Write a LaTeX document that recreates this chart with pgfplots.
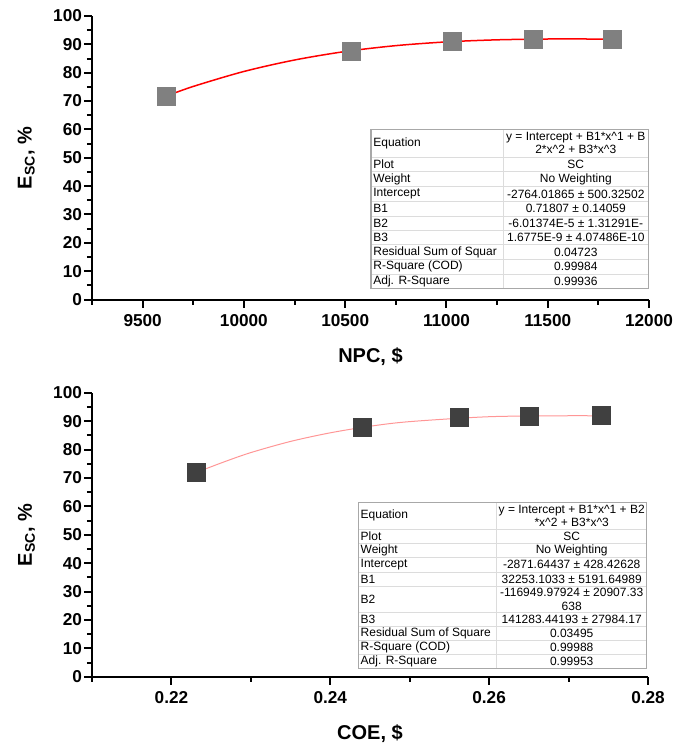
\documentclass[border=0pt]{standalone}
\usepackage{fontspec}
\setmainfont{Liberation Sans}[BoldFont={Liberation Sans Bold}]
\usepackage{pgfplots}
\pgfplotsset{compat=1.18}

\definecolor{mkgray}{HTML}{808080}
\definecolor{mkdark}{HTML}{404040}
\definecolor{fitpink}{RGB}{255,150,150}
\definecolor{tabline}{HTML}{DCDCDC}
\definecolor{tabframe}{HTML}{A8A8A8}

\pgfplotsset{
  orig/.style={
    scale only axis,
    axis x line*=bottom, axis y line*=left,
    axis line style={line width=1pt, -},
    every tick/.style={line width=1pt, black},
    tick align=outside,
    major tick length=4pt, minor tick length=2.5pt,
    ymin=0, ymax=100, ytick={0,10,...,100},
    minor ytick={5,15,...,95},
    scaled x ticks=false,
    /pgf/number format/assume math mode=true,
    tick label style={font=\fontsize{8.6}{10}\selectfont\bfseries},
    yticklabel style={xshift=2.5pt},
    label style={font=\fontsize{10.5}{12}\selectfont\bfseries},
    every axis y label/.style={at={(axis description cs:-0.118,0.5)}, rotate=90, anchor=center},
    every axis x label/.style={at={(axis description cs:0.5,0)}, yshift=-28.5pt, anchor=center},
    ylabel={\textbf{E\textsubscript{SC}, \%}},
    clip=false,
  },
}

\begin{document}
\begin{tikzpicture}
\path[use as bounding box] (0,0) rectangle (345pt,-373pt);

% ---- top: NPC ----
\begin{axis}[orig,
  at={(46pt,-149.75pt)}, anchor=south west,
  width=278.5pt, height=141.75pt,
  xmin=9250, xmax=12000,
  xtick={9500,10000,...,12000},
  minor xtick={9250,9750,...,11750},
  xticklabel style={/pgf/number format/1000 sep={}},
  xlabel={\textbf{NPC, \$}},
]
  \addplot[mkgray, only marks, mark=square*, mark size=4.5pt]
    coordinates {(9615,71.5) (10530,87.6) (11030,90.9) (11427,91.6) (11817,91.7)};
  \addplot[red, line width=0.75pt, smooth, no marks]
    coordinates {(9615,71.7) (9750,75.16) (10000,80.44) (10250,84.48) (10500,87.48)
      (10750,89.55) (11000,90.87) (11250,91.60) (11500,91.89) (11650,91.90) (11817,91.85)};
\end{axis}

% ---- bottom: COE ----
\begin{axis}[orig,
  at={(46pt,-338.35pt)}, anchor=south west,
  width=278pt, height=142pt,
  xmin=0.21, xmax=0.28,
  xtick={0.22,0.24,0.26,0.28},
  minor xtick={0.21,0.23,0.25,0.27},
  xticklabel style={/pgf/number format/.cd, fixed, fixed zerofill, precision=2},
  xlabel={\textbf{COE, \$}},
]
  \addplot[mkdark, only marks, mark=square*, mark size=4.5pt]
    coordinates {(0.2231,71.8) (0.2441,87.7) (0.2562,91.2) (0.2651,91.5) (0.2741,91.9)};
  \addplot[fitpink, line width=0.5pt, smooth, no marks]
    coordinates {(0.2231,71.89) (0.2265,75.51) (0.23,78.92) (0.235,82.85) (0.24,85.88)
      (0.245,88.19) (0.25,89.82) (0.26,91.55) (0.27,91.89) (0.2741,91.84)};
\end{axis}

% ---- fit tables (px coordinates, y down) ----
\begin{scope}[x=0.5pt, y=-0.5pt, font=\fontsize{6}{6.7}\selectfont]
  % top table
  \foreach \yy in {157,171.7,186.7,201.3,216,230.3,244.7,259.3,274.3}
    \draw[tabline, line width=0.5pt] (371,\yy) -- (648.3,\yy);
  \draw[tabline, line width=0.5pt] (503.3,129.3) -- (503.3,288.7);
  \draw[tabframe, line width=0.6pt] (371,129.3) rectangle (648.3,288.7);
  \foreach \ya/\yb/\ta/\tb in {
      157/171.7/Plot/SC,
      171.7/186.7/Weight/No Weighting,
      186.7/201.3/Intercept/{-2764.01865 ± 500.32502},
      201.3/216/B1/{0.71807 ± 0.14059},
      216/230.3/B2/{-6.01374E-5 ± 1.31291E-},
      230.3/244.7/B3/{1.6775E-9 ± 4.07486E-10},
      244.7/259.3/Residual Sum of Squar/0.04723,
      259.3/274.3/R-Square (COD)/0.99984,
      274.3/288.7/Adj. R-Square/0.99936}{
    \node[anchor=west, inner sep=0pt] at (373,{(\ya+\yb)/2}) {\ta};
    \node[inner sep=0pt] at (575.8,{(\ya+\yb)/2}) {\tb};
  }
  \node[anchor=west, inner sep=0pt] at (373,143.2) {Equation};
  \node[inner sep=0pt, align=center] at (575.8,143.2) {y = Intercept + B1*x\^{}1 + B\\2*x\^{}2 + B3*x\^{}3};

  % bottom table
  \foreach \yy in {529.3,543.3,557.7,572,586,612.3,626.3,640.3,654.3}
    \draw[tabline, line width=0.5pt] (358.3,\yy) -- (646.7,\yy);
  \draw[tabline, line width=0.5pt] (496.7,502.3) -- (496.7,668.3);
  \draw[tabframe, line width=0.6pt] (358.3,502.3) rectangle (646.7,668.3);
  \foreach \ya/\yb/\ta/\tb in {
      529.3/543.3/Plot/SC,
      543.3/557.7/Weight/No Weighting,
      557.7/572/Intercept/{-2871.64437 ± 428.42628},
      572/586/B1/{32253.1033 ± 5191.64989},
      612.3/626.3/B3/{141283.44193 ± 27984.17},
      626.3/640.3/Residual Sum of Square/0.03495,
      640.3/654.3/R-Square (COD)/0.99988,
      654.3/668.3/Adj. R-Square/0.99953}{
    \node[anchor=west, inner sep=0pt] at (360.3,{(\ya+\yb)/2}) {\ta};
    \node[inner sep=0pt] at (571.7,{(\ya+\yb)/2}) {\tb};
  }
  \node[anchor=west, inner sep=0pt] at (360.3,515.8) {Equation};
  \node[inner sep=0pt, align=center] at (571.7,515.8) {y = Intercept + B1*x\^{}1 + B2\\*x\^{}2 + B3*x\^{}3};
  \node[anchor=west, inner sep=0pt] at (360.3,599.2) {B2};
  \node[inner sep=0pt, align=center] at (571.7,599.2) {-116949.97924 ± 20907.33\\638};
\end{scope}
\end{tikzpicture}
\end{document}
